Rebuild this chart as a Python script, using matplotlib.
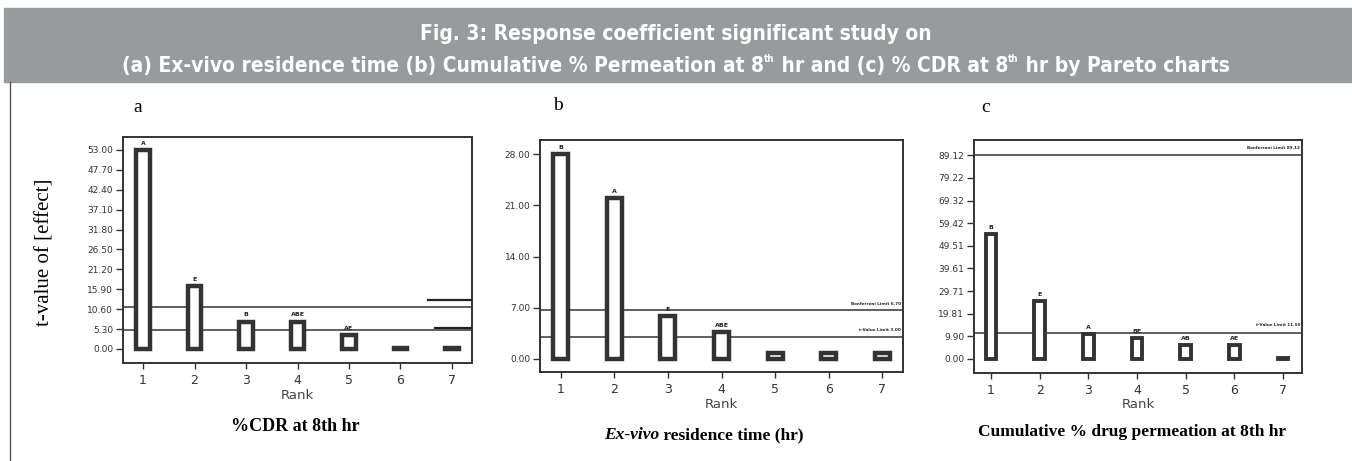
import matplotlib
matplotlib.use("Agg")
import matplotlib.pyplot as plt
from matplotlib.patches import Rectangle
from matplotlib.lines import Line2D

# ---- data ----
ranks = [1, 2, 3, 4, 5, 6, 7]

cdr_vals = [53.0, 16.8, 7.3, 7.3, 3.6, 0.3, 0.3]
cdr_terms = ["A", "E", "B", "ABE", "AE", "", ""]
cdr_limits = [11.1, 5.0]          # Bonferroni limit, t-value limit
cdr_ticks = [0.00, 5.30, 10.60, 15.90, 21.20, 26.50, 31.80, 37.10, 42.40, 47.70, 53.00]

res_vals = [28.0, 22.0, 5.9, 3.7, 0.8, 0.8, 0.8]
res_terms = ["B", "A", "E", "ABE", "", "", ""]
res_limits = [6.7, 3.0]
res_ticks = [0.00, 7.00, 14.00, 21.00, 28.00]

perm_vals = [54.5, 25.4, 10.8, 9.2, 6.1, 6.1, 0.5]
perm_terms = ["B", "E", "A", "BE", "AB", "AE", ""]
perm_limits = [89.12, 11.5]
perm_ticks = [0.00, 9.90, 19.81, 29.71, 39.61, 49.51, 59.42, 69.32, 79.22, 89.12]

W, H = 1352, 461
fig = plt.figure(figsize=(W / 100, H / 100), dpi=100)
fig.patch.set_facecolor("white")
renderer = fig.canvas.get_renderer()


def px(x0, y0, x1, y1):
    # pixel box -> figure fraction rect
    return [x0 / W, 1 - y1 / H, (x1 - x0) / W, (y1 - y0) / H]


# header band
fig.patches.append(Rectangle((4 / W, 1 - 82 / H), 1 - 4 / W, 74 / H,
                             transform=fig.transFigure, color="#989b9b", zorder=0))
hdr = dict(color="white", fontweight="bold", family=["DejaVu Sans"],
           fontstretch="condensed", va="baseline")


def header_line(ybase, pieces):
    # pieces: (text, size, rise in px); laid out left to right, centred on the page
    texts = [fig.text(0, 0, s, fontsize=fs, **hdr) for s, fs, _ in pieces]
    widths = [t.get_window_extent(renderer).width for t in texts]
    x = (W - sum(widths)) / 2
    for t, w, (_, _, rise) in zip(texts, widths, pieces):
        t.set_position((x / W, 1 - (ybase - rise) / H))
        x += w


header_line(40, [("Fig. 3: Response coefficient significant study on", 15, 0)])
header_line(72, [("(a) Ex-vivo residence time (b) Cumulative % Permeation at 8", 15, 0),
                 ("th", 7, 10),
                 (" hr and (c) % CDR at 8", 15, 0),
                 ("th", 7, 10),
                 (" hr by Pareto charts", 15, 0)])
fig.lines.append(Line2D([9.5 / W, 9.5 / W], [0, 1 - 82 / H], transform=fig.transFigure,
                        color="#555555", lw=1))


def pareto(ax, vals, terms, limits, ticks, ylim, xlim, bw, elw):
    for y in limits:
        ax.axhline(y, color="#444444", lw=1.2, zorder=1)
    ax.bar(ranks, vals, width=bw, facecolor="white", edgecolor="#333333",
           linewidth=elw, zorder=2)
    for r, v, t in zip(ranks, vals, terms):
        if t:
            ax.annotate(t, (r, v), xytext=(0, 3), textcoords="offset points",
                        ha="center", va="bottom", fontsize=4.5, fontweight="bold",
                        color="#222222")
    ax.set_xlim(*xlim)
    ax.set_ylim(*ylim)
    ax.set_xticks(ranks)
    ax.set_yticks(ticks)
    ax.set_yticklabels([f"{t:.2f}" for t in ticks])
    ax.tick_params(axis="y", labelsize=6.5, length=5, width=1, pad=2,
                   colors="#333333")
    ax.tick_params(axis="x", labelsize=9, length=4, width=1, pad=4,
                   colors="#333333")
    for s in ax.spines.values():
        s.set_color("#333333")
        s.set_linewidth(1.4)
    ax.set_xlabel("Rank", fontsize=9.5, color="#444444", labelpad=1)


def tag(ax, y, s):
    ax.text(0.995, y, s, transform=ax.get_yaxis_transform(), ha="right",
            va="center", fontsize=3, fontweight="bold", color="#222222")


ax_a = fig.add_axes(px(123, 137, 472, 363))
pareto(ax_a, cdr_vals, cdr_terms, cdr_limits, cdr_ticks, (-3.73, 56.46),
       (0.61, 7.39), 0.27, 3.2)
ax_a.plot([6.53, 7.39], [13.0, 13.0], color="#222222", lw=1.6, zorder=3)
ax_a.plot([6.67, 7.39], [5.6, 5.6], color="#222222", lw=1.6, zorder=3)

ax_b = fig.add_axes(px(540, 140, 903, 372))
pareto(ax_b, res_vals, res_terms, res_limits, res_ticks, (-1.78, 29.92),
       (0.61, 7.39), 0.28, 3.2)
tag(ax_b, 7.5, "Bonferroni Limit 6.70")
tag(ax_b, 4.0, "t-Value Limit 3.00")

ax_c = fig.add_axes(px(974, 140, 1302, 373))
pareto(ax_c, perm_vals, perm_terms, perm_limits, perm_ticks, (-6.13, 95.8),
       (0.65, 7.39), 0.22, 2.8)
tag(ax_c, 92.3, "Bonferroni Limit 89.12")
tag(ax_c, 14.9, "t-Value Limit 11.50")

# panel letters, y label and captions
serif = ["Liberation Serif", "DejaVu Serif"]
for x, y, s in [(138, 107, "a"), (558, 105, "b"), (986, 107, "c")]:
    fig.text(x / W, 1 - y / H, s, family=serif, fontsize=14, ha="center", va="center")
fig.text(45 / W, 1 - 252 / H, "t-value of [effect]", family=serif, fontsize=15,
         rotation=90, ha="center", va="center")
fig.text(295 / W, 1 - 426 / H, "%CDR at 8th hr", family=serif, fontsize=13,
         fontweight="bold", ha="center", va="center")
t1 = fig.text(604 / W, 1 - 435 / H, "Ex-vivo", family=serif, fontsize=12.5,
              fontweight="bold", style="italic", ha="left", va="center")
fig.add_artist(matplotlib.text.Annotation(
    " residence time (hr)", xy=(1, 0), xycoords=t1, xytext=(0, 0),
    textcoords="offset points", family=serif, fontsize=12.5, fontweight="bold",
    ha="left", va="bottom", annotation_clip=False))
fig.text(1132 / W, 1 - 432 / H, "Cumulative % drug permeation at 8th hr", family=serif,
         fontsize=12.5, fontweight="bold", ha="center", va="center")

fig.savefig("out.png", dpi=100)
